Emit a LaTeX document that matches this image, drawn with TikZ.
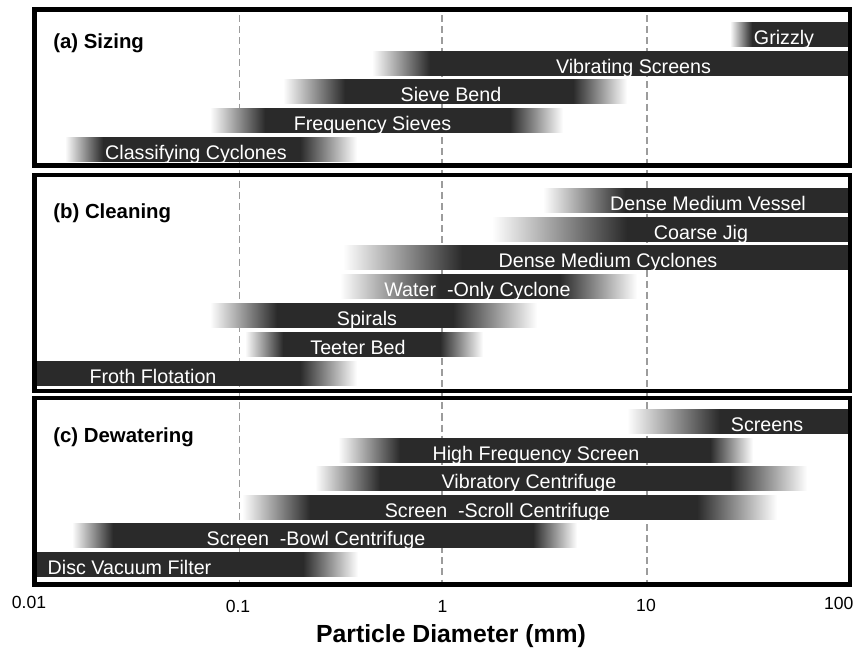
\documentclass[tikz,border=0pt]{standalone}
\usepackage{fontspec}
\setmainfont{Liberation Sans}
\usetikzlibrary{calc}

\definecolor{bardark}{HTML}{2A2A2A}
\definecolor{gridgray}{HTML}{9C9C9C}

% #1 name, #2 top, #3 fade in, #4 solid from, #5 solid to, #6 fade out, #7 label x, #8 text
\newcommand{\unitbar}[8]{%
  \shade[left color=white,right color=bardark] (#3,#2) rectangle (#4,#2+24.5);
  \fill[bardark] (#4,#2) rectangle (#5,#2+24.5);
  \shade[left color=bardark,right color=white] (#5,#2) rectangle (#6,#2+24.5);
  \node[barlabel] (#1) at (#7,#2+22) {#8};
}

\begin{document}
\begin{tikzpicture}[x=0.02cm, y=-0.02cm,
    barlabel/.style={text=white, anchor=base, inner sep=0pt,
      font=\fontsize{11.2}{13}\selectfont},
    heading/.style={anchor=base west, inner sep=0pt,
      font=\fontsize{11.6}{14}\selectfont\bfseries},
    ticklabel/.style={anchor=base, inner sep=0pt,
      font=\fontsize{10}{12}\selectfont},
    panel/.style={draw=black, line width=2.5pt},
    gridline/.style={draw=gridgray, line width=1.1pt, dash pattern=on 4pt off 2.3pt}]
  \useasboundingbox (0,0) rectangle (863,649);

  % decade lines
  \foreach \gx in {239.5,442,647}
    \draw[gridline] (\gx,15) -- (\gx,585);

  % (a) sizing
  \unitbar{grizzly}{22}{730}{752}{851}{852}{784}{Grizzly}
  \unitbar{vibscreen}{51}{372}{430}{851}{852}{633.5}{Vibrating Screens}
  \unitbar{sievebend}{79}{283}{345}{573}{627}{451}{Sieve Bend}
  \unitbar{freqsieve}{108}{210}{265}{510}{563}{372.5}{Frequency Sieves}
  \unitbar{classcyc}{137}{65}{103}{300}{357}{196}{Classifying Cyclones}

  % (b) cleaning
  \unitbar{dmvessel}{188}{543}{625}{851}{852}{708}{Dense Medium Vessel}
  \unitbar{coarsejig}{217}{492}{627}{851}{852}{701}{Coarse Jig}
  \unitbar{dmcyc}{245}{343}{462}{851}{852}{608}{Dense Medium Cyclones}
  \unitbar{wocyc}{274}{340}{440}{560}{637}{477.5}{Water\ \ -Only Cyclone}
  \unitbar{spirals}{303}{210}{277}{453}{537}{367}{Spirals}
  \unitbar{teeter}{332}{245}{283}{440}{483}{358}{Teeter Bed}
  \unitbar{froth}{361}{33}{33.5}{300}{357}{153}{Froth Flotation}

  % (c) dewatering
  \unitbar{screens}{409}{627}{720}{851}{852}{767}{Screens}
  \unitbar{hfscreen}{438}{338}{400}{710}{753}{536}{High Frequency Screen}
  \unitbar{vibcent}{466}{315}{380}{730}{807}{529}{Vibratory Centrifuge}
  \unitbar{scrollcent}{495}{242}{310}{697}{777}{497.5}{Screen\ \ -Scroll Centrifuge}
  \unitbar{bowlcent}{523}{72}{113}{533}{577}{316}{Screen\ \ -Bowl Centrifuge}
  \unitbar{discfilter}{552}{33}{33.5}{303}{358}{129.5}{Disc Vacuum Filter}

  % frames
  \draw[panel] (34.5,9.5) rectangle (850,165.5);
  \draw[panel] (34.5,175) rectangle (850,391);
  \draw[panel] (34.5,398) rectangle (850,584.5);

  \node[heading] (hsizing) at (53,49) {(a) Sizing};
  \node[heading] (hcleaning) at (53,218.5) {(b) Cleaning};
  \node[heading] (hdewater) at (53,442.5) {(c) Dewatering};

  % axis
  \foreach \val/\tx/\ty in {0.01/29/608,0.1/238/612,1/442.5/612,10/646/611,100/838.7/609}
    \node[ticklabel] (tick\val) at (\tx,\ty) {\val};
  \node[anchor=base, inner sep=0pt, font=\fontsize{14.1}{17}\selectfont\bfseries]
    (xtitle) at (451,642.7) {Particle Diameter (mm)};
\end{tikzpicture}
\end{document}
